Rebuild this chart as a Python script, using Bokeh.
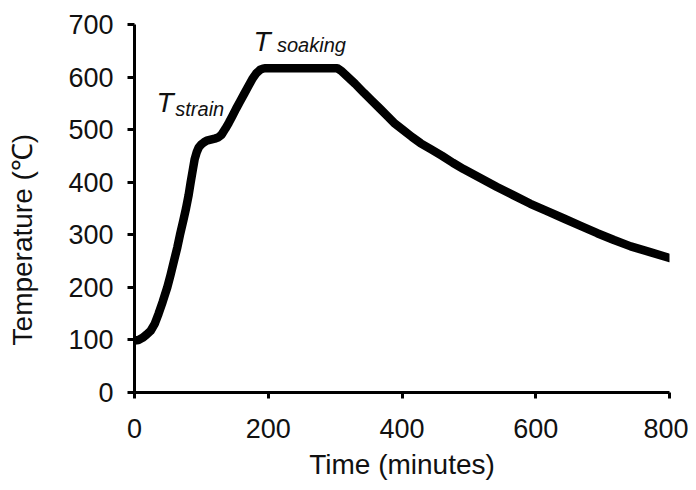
import math
from bokeh.plotting import figure
from bokeh.models import Range1d, Label, FixedTicker
from bokeh.embed import file_html
from bokeh.resources import INLINE

# Data
time_min = [0, 6, 12, 18, 24, 30, 36, 42, 49, 54, 59, 64, 68, 73, 77, 81, 84, 87, 90,
            93, 96, 100, 104, 108, 114, 120, 125, 130, 136, 141, 146, 152, 158,
            164, 170, 176, 182, 188, 192, 196, 250, 303, 310, 320, 330, 343, 355,
            367, 378, 388, 400, 415, 428, 443, 460, 476, 492, 517, 542, 567, 592,
            617, 642, 667, 692, 717, 742, 771, 800]
temp_c = [99, 100, 104, 110, 117, 130, 150, 172, 200, 224, 250, 276, 300, 327, 350, 376,
          400, 422, 444, 457, 466, 472, 476, 479, 481, 483, 485, 490, 502, 513, 525, 540, 554,
          568, 582, 596, 607, 614, 616, 617, 617, 617, 611, 599, 587, 570, 555,
          540, 526, 513, 501, 486, 474, 463, 450, 437, 425, 408, 391, 375, 359,
          345, 331, 317, 303, 290, 278, 267, 256]
x_ticks = [0, 200, 400, 600, 800]
y_ticks = [0, 100, 200, 300, 400, 500, 600, 700]

FONT = "Liberation Sans"
INK = "#111111"

p = figure(width=688, height=482, output_backend="svg", toolbar_location=None,
           x_range=Range1d(0, 800), y_range=Range1d(0, 700),
           min_border_left=134, min_border_right=19, min_border_top=24, min_border_bottom=86)
p.outline_line_color = None
p.grid.visible = False
p.background_fill_color = "white"
p.border_fill_color = "white"

p.line(time_min, temp_c, line_width=8.5, line_color="black",
       line_join="round", line_cap="round")

for ax in (p.xaxis[0], p.yaxis[0]):
    ax.axis_line_width = 3
    ax.axis_line_color = "black"
    ax.major_tick_line_width = 3
    ax.major_tick_line_color = "black"
    ax.major_tick_in = 0
    ax.minor_tick_line_color = None
    ax.major_label_text_font = FONT
    ax.major_label_text_font_size = "27px"
    ax.major_label_text_color = INK
    ax.axis_label_text_font = FONT
    ax.axis_label_text_font_size = "28px"
    ax.axis_label_text_font_style = "normal"
    ax.axis_label_text_color = INK

p.xaxis.ticker = FixedTicker(ticks=x_ticks)
p.yaxis.ticker = FixedTicker(ticks=y_ticks)
p.xaxis.major_tick_out = 6
p.yaxis.major_tick_out = 7
p.xaxis.major_label_standoff = 20
p.yaxis.major_label_standoff = 14

p.xaxis.axis_label = "Time (minutes)"
p.xaxis.axis_label_standoff = 8

# trailing no-break spaces shift the centred label downwards, as in the reference
p.yaxis.axis_label = "Temperature (℃)" + "\u00a0" * 8
p.yaxis.axis_label_standoff = 27

for (xx, yy, txt, size) in [(178, 667, "T", "28px"), (213, 661, "soaking", "20px"),
                            (33, 551, "T", "28px"), (61, 540, "strain", "20px")]:
    p.add_layout(Label(x=xx, y=yy, text=txt, text_font=FONT, text_font_size=size,
                       text_font_style="italic", text_align="left",
                       text_baseline="alphabetic", text_color=INK))

open("out.html", "w").write(file_html(p, INLINE))
